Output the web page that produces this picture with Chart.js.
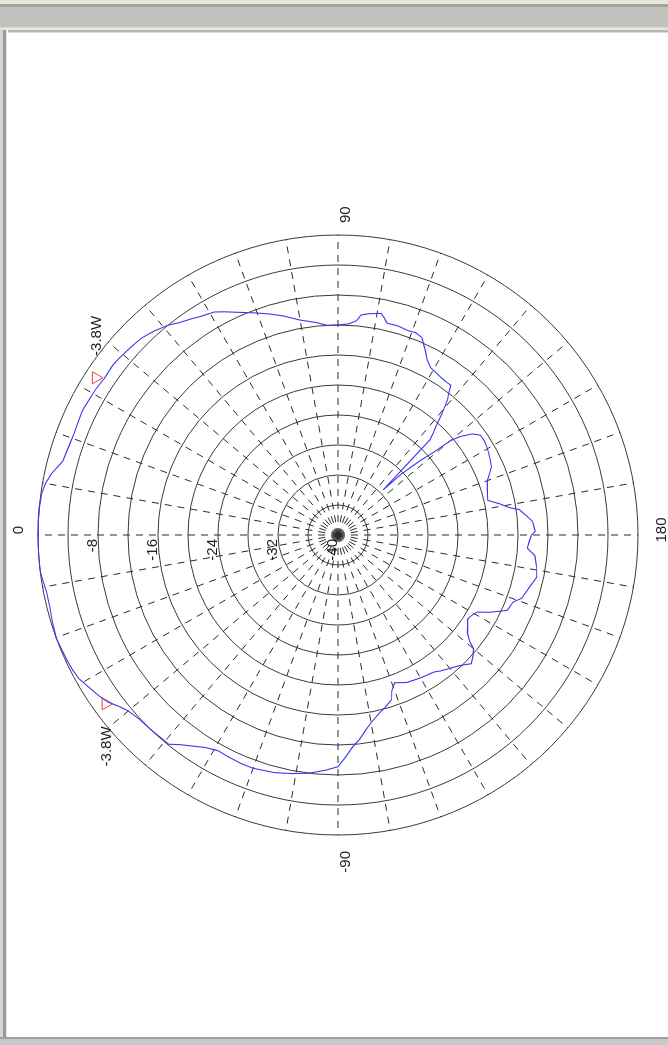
<!DOCTYPE html>
<html>
<head>
<meta charset="utf-8">
<script src="https://cdn.jsdelivr.net/npm/chart.js@4.4.1/dist/chart.umd.min.js"></script>
<style>
  html, body { margin: 0; padding: 0; }
  body { width: 668px; height: 1045px; position: relative; overflow: hidden; background: #fff; }
  #topbar { position: absolute; left: 0; top: 0; width: 668px; height: 33px;
    background: linear-gradient(to bottom, #e8e8da 0, #e8e8da 4px, #a4a49c 4px, #a4a49c 7px,
      #c2c2be 7px, #c2c2be 27px, #d6d6d6 27px, #ececec 30px, #b4b4b4 30px, #b4b4b4 32px, #fff 33px); }
  #leftbar { position: absolute; left: 0; top: 30px; width: 8px; height: 1015px;
    background: linear-gradient(to right, #d4d4d4 0, #d4d4d4 3px, #9a9a9a 3px, #9a9a9a 6px, #e4e4e4 6px, #fff 8px); }
  #bottombar { position: absolute; left: 0; top: 1037px; width: 668px; height: 8px;
    background: linear-gradient(to bottom, #a0a0a0 0, #a0a0a0 2px, #c8c8c8 2px, #c8c8c8 8px); }
  #rot { position: absolute; left: 0; top: 1045px; width: 1045px; height: 668px;
    transform-origin: 0 0; transform: rotate(-90deg); }
</style>
</head>
<body>
<div id="topbar"></div>
<div id="leftbar"></div>
<div id="bottombar"></div>
<div id="rot"><canvas id="polarChart" width="1045" height="668"></canvas></div>
<script>
// ---- data (angle in degrees, 0 = boresight, clockwise) ----
const angleDeg = [
  0, 3, 5, 8, 10, 12, 15, 18, 21, 24,
  26, 28, 31, 34, 37, 39, 42, 45, 48, 51,
  53, 56, 58, 61, 63, 66, 70, 73, 76, 80,
  84, 87, 90, 93, 95, 96, 98, 101, 102, 103,
  106, 109, 111, 113, 115, 117, 119, 121, 123, 125,
  127, 128, 129, 130, 131, 132, 133, 134, 135, 136,
  137, 138, 139, 140, 141, 143, 145, 147, 149, 151,
  153, 156, 158, 160, 163, 167, 169, 171, 172, 174,
  176, 178, 179, 180, 182, 184, 186, 189, 192, 195,
  199, 201, 204, 207, 209, 211, 213, 215, 217, 219,
  220, 222, 224, 227, 230, 233, 235, 240, 245, 249,
  251, 252, 255, 257, 260, 262, 264, 266, 268, 270,
  273, 277, 281, 285, 290, 293, 296, 299, 302, 304,
  307, 309, 311, 314, 317, 320, 322, 324, 326, 328,
  331, 333, 335, 338, 340, 343, 346, 349, 351, 353,
  356, 358
];
const gainDb = [
  0, 0, 0, -0.1, -0.4, -0.9, -2.0, -2.2, -2.3, -2.2,
  -2.1, -2.2, -2.3, -2.5, -2.4, -2.5, -2.7, -2.9, -3.4, -4.0,
  -4.6, -5.2, -5.6, -6.0, -6.6, -7.5, -8.5, -9.2, -9.9, -10.9,
  -11.5, -12.0, -12.0, -11.8, -11.3, -10.5, -10.2, -9.9, -10.4, -11.0,
  -11.0, -11.2, -11.1, -11.4, -12.6, -13.8, -14.5, -14.7, -14.9, -15.0,
  -15.0, -16.0, -16.8, -18.0, -19.2, -20.4, -21.4, -22.4, -31.5, -28.5,
  -26.8, -25.0, -23.4, -20.5, -19.2, -17.6, -16.8, -16.8, -16.9, -17.1,
  -17.3, -17.6, -18.2, -18.8, -19.2, -19.5, -18.1, -16.8, -15.6, -14.8,
  -14.0, -13.8, -13.7, -14.2, -14.5, -14.7, -13.6, -13.2, -12.9, -13.5,
  -14.1, -15.0, -15.3, -17.3, -18.8, -19.2, -19.4, -18.9, -18.4, -17.4,
  -16.4, -15.8, -15.3, -16.2, -16.8, -17.3, -17.7, -18.0, -18.3, -18.9,
  -18.0, -16.9, -16.1, -15.6, -14.6, -13.7, -12.6, -11.7, -10.4, -9.1,
  -8.6, -8.0, -7.6, -7.2, -6.9, -6.9, -7.0, -7.1, -6.6, -6.0,
  -5.0, -4.1, -4.1, -4.0, -3.9, -3.5, -2.9, -2.1, -1.6, -1.2,
  -0.5, -0.3, -0.2, -0.1, 0, -0.2, -0.4, -0.4, -0.2, 0,
  0, 0
];

// -3 dB beamwidth markers
const markerDeg = [33, 324];
const markerDb = [-1.5, -1.7];
const markerText = ['-3.8W', '-3.8W'];

// tick labels
const ringLabels = [-8, -16, -24, -32, -40];
const angleTickDeg = [0, 90, 180, 270];
const angleTickText = ['0', '90', '180', '-90'];

// one category per degree
const degLabels = [];
for (let i = 0; i < 360; i++) degLabels.push(i);

const patternData = degLabels.map(() => null);
angleDeg.forEach((a, i) => { patternData[a] = gainDb[i]; });
const markerData = degLabels.map(() => null);
markerDeg.forEach((a, i) => { markerData[a] = markerDb[i]; });

const textFont = '15px "Liberation Sans", Arial, sans-serif';

// text that the radar scale can't draw the way the plot does
const polarText = {
  id: 'polarText',
  afterDraw(chart) {
    const sc = chart.scales.r;
    const ctx = chart.ctx;
    ctx.save();
    ctx.fillStyle = '#1e1e1e';
    ctx.font = textFont;

    // dB values next to the 0 deg spoke
    ctx.textAlign = 'right';
    ctx.textBaseline = 'middle';
    ringLabels.forEach(v => {
      const d = sc.getDistanceFromCenterForValue(v);
      ctx.fillText(String(v), sc.xCenter - 4, sc.yCenter - d - 5);
    });

    // angle labels outside the circle
    angleTickDeg.forEach((deg, i) => {
      const p = sc.getPointPosition(deg, sc.drawingArea + 12);
      let x = p.x, y = p.y;
      if (deg === 0) { ctx.textAlign = 'center'; ctx.textBaseline = 'bottom'; x += 5; }
      else if (deg === 180) { ctx.textAlign = 'center'; ctx.textBaseline = 'top'; x += 5; y += 4; }
      else if (deg === 90) { ctx.textAlign = 'left'; ctx.textBaseline = 'middle'; y += 8; }
      else { ctx.textAlign = 'right'; ctx.textBaseline = 'middle'; y += 8; x -= 4; }
      ctx.fillText(angleTickText[i], x, y);
    });

    // marker captions
    ctx.textAlign = 'center';
    ctx.textBaseline = 'middle';
    markerDeg.forEach((deg, i) => {
      const side = deg < 180 ? 1 : -1;
      const p = sc.getPointPosition(deg + side * 6.5, sc.drawingArea + 13);
      ctx.fillText(markerText[i], p.x, p.y);
    });
    ctx.restore();
  }
};

new Chart(document.getElementById('polarChart'), {
  type: 'radar',
  data: {
    labels: degLabels,
    datasets: [{
      label: 'pattern',
      data: patternData,
      borderColor: '#3a3af0',
      borderWidth: 1.1,
      pointRadius: 0,
      fill: false,
      spanGaps: true
    }, {
      label: 'markers',
      data: markerData,
      showLine: false,
      pointStyle: 'triangle',
      pointRotation: 180,
      pointRadius: 7,
      pointBorderColor: '#f03c3c',
      pointBackgroundColor: 'rgba(0,0,0,0)',
      pointBorderWidth: 1,
      spanGaps: true
    }]
  },
  options: {
    responsive: false,
    animation: false,
    layout: { padding: { left: 210, right: 235, top: 38, bottom: 30 } },
    plugins: { legend: { display: false }, tooltip: { enabled: false } },
    scales: {
      r: {
        min: -40,
        max: 0,
        startAngle: 0,
        ticks: { stepSize: 4, display: false },
        pointLabels: { display: false },
        grid: { circular: true, color: '#3a3a3a', lineWidth: 1 },
        angleLines: {
          color: '#2a2a2a',
          lineWidth: (c) => (c.index % 10 === 0 ? 1 : 0),
          borderDash: [7, 6]
        }
      }
    }
  },
  plugins: [polarText]
});
</script>
</body>
</html>
